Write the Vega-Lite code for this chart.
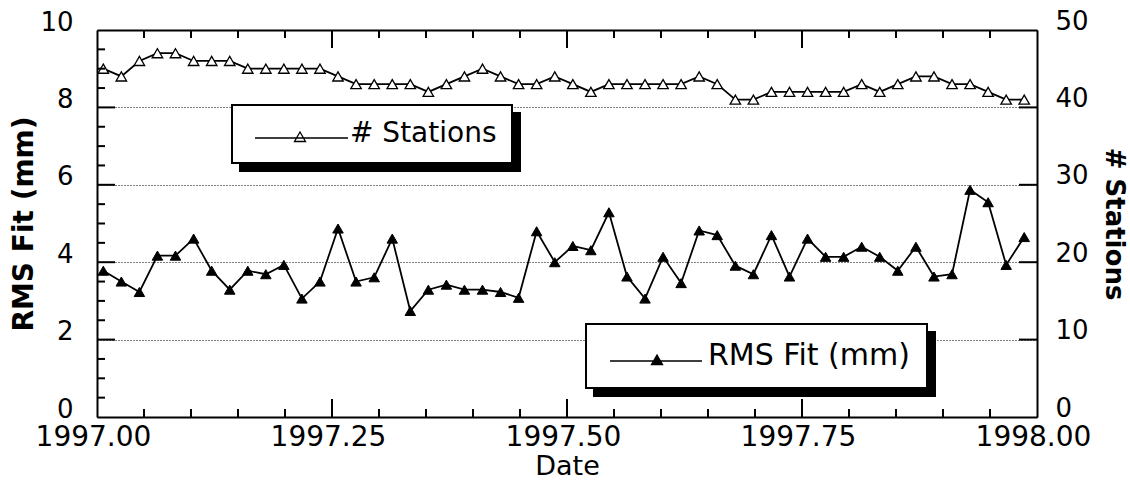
{
  "$schema": "https://vega.github.io/schema/vega-lite/v6.json",
  "width": 940,
  "height": 387,
  "autosize": {"type": "none"},
  "padding": {"left": 97, "top": 30, "right": 93, "bottom": 64},
  "background": "white",
  "data": {"values": [
    {"date": 1997.0067, "rms": 3.78, "stations": 45},
    {"date": 1997.0259, "rms": 3.50, "stations": 44},
    {"date": 1997.0451, "rms": 3.23, "stations": 46},
    {"date": 1997.0643, "rms": 4.17, "stations": 47},
    {"date": 1997.0835, "rms": 4.17, "stations": 47},
    {"date": 1997.1028, "rms": 4.61, "stations": 46},
    {"date": 1997.1220, "rms": 3.78, "stations": 46},
    {"date": 1997.1412, "rms": 3.29, "stations": 46},
    {"date": 1997.1604, "rms": 3.78, "stations": 45},
    {"date": 1997.1796, "rms": 3.69, "stations": 45},
    {"date": 1997.1988, "rms": 3.93, "stations": 45},
    {"date": 1997.2180, "rms": 3.06, "stations": 45},
    {"date": 1997.2372, "rms": 3.50, "stations": 45},
    {"date": 1997.2564, "rms": 4.87, "stations": 44},
    {"date": 1997.2756, "rms": 3.50, "stations": 43},
    {"date": 1997.2949, "rms": 3.61, "stations": 43},
    {"date": 1997.3141, "rms": 4.61, "stations": 43},
    {"date": 1997.3333, "rms": 2.74, "stations": 43},
    {"date": 1997.3525, "rms": 3.29, "stations": 42},
    {"date": 1997.3717, "rms": 3.42, "stations": 43},
    {"date": 1997.3909, "rms": 3.29, "stations": 44},
    {"date": 1997.4101, "rms": 3.29, "stations": 45},
    {"date": 1997.4293, "rms": 3.23, "stations": 44},
    {"date": 1997.4485, "rms": 3.08, "stations": 43},
    {"date": 1997.4677, "rms": 4.80, "stations": 43},
    {"date": 1997.4870, "rms": 4.00, "stations": 44},
    {"date": 1997.5062, "rms": 4.42, "stations": 43},
    {"date": 1997.5254, "rms": 4.31, "stations": 42},
    {"date": 1997.5446, "rms": 5.29, "stations": 43},
    {"date": 1997.5638, "rms": 3.63, "stations": 43},
    {"date": 1997.5830, "rms": 3.06, "stations": 43},
    {"date": 1997.6022, "rms": 4.14, "stations": 43},
    {"date": 1997.6214, "rms": 3.46, "stations": 43},
    {"date": 1997.6406, "rms": 4.82, "stations": 44},
    {"date": 1997.6598, "rms": 4.70, "stations": 43},
    {"date": 1997.6791, "rms": 3.91, "stations": 41},
    {"date": 1997.6983, "rms": 3.69, "stations": 41},
    {"date": 1997.7175, "rms": 4.70, "stations": 42},
    {"date": 1997.7367, "rms": 3.63, "stations": 42},
    {"date": 1997.7559, "rms": 4.61, "stations": 42},
    {"date": 1997.7751, "rms": 4.14, "stations": 42},
    {"date": 1997.7943, "rms": 4.14, "stations": 42},
    {"date": 1997.8135, "rms": 4.40, "stations": 43},
    {"date": 1997.8327, "rms": 4.14, "stations": 42},
    {"date": 1997.8519, "rms": 3.78, "stations": 43},
    {"date": 1997.8712, "rms": 4.40, "stations": 44},
    {"date": 1997.8904, "rms": 3.63, "stations": 44},
    {"date": 1997.9096, "rms": 3.69, "stations": 43},
    {"date": 1997.9288, "rms": 5.87, "stations": 43},
    {"date": 1997.9480, "rms": 5.55, "stations": 42},
    {"date": 1997.9672, "rms": 3.93, "stations": 41},
    {"date": 1997.9864, "rms": 4.65, "stations": 41}
  ]},
  "datasets": {
    "xmajor": [{"v": 1997.25}, {"v": 1997.5}, {"v": 1997.75}],
    "xminor": [{"v": 1997.05}, {"v": 1997.1}, {"v": 1997.15}, {"v": 1997.2}, {"v": 1997.3}, {"v": 1997.35}, {"v": 1997.4}, {"v": 1997.45}, {"v": 1997.55}, {"v": 1997.6}, {"v": 1997.65}, {"v": 1997.7}, {"v": 1997.8}, {"v": 1997.85}, {"v": 1997.9}, {"v": 1997.95}],
    "ymajor": [{"v": 2}, {"v": 4}, {"v": 6}, {"v": 8}],
    "yminor": [{"v": 0.5}, {"v": 1}, {"v": 1.5}, {"v": 2.5}, {"v": 3}, {"v": 3.5}, {"v": 4.5}, {"v": 5}, {"v": 5.5}, {"v": 6.5}, {"v": 7}, {"v": 7.5}, {"v": 8.5}, {"v": 9}, {"v": 9.5}]
  },
  "config": {
    "view": {"stroke": null},
    "legend": {"strokeWidth": 2},
    "axis": {
      "grid": false,
      "ticks": false,
      "domainColor": "black",
      "domainWidth": 2,
      "gridColor": "black",
      "gridOpacity": 1,
      "labelColor": "black",
      "titleColor": "black",
      "labelFont": "DejaVu Sans",
      "titleFont": "DejaVu Sans",
      "labelFlush": false,
      "labelOverlap": false,
      "labelBound": false
    }
  },
  "resolve": {
    "scale": {"y": "independent", "opacity": "independent"},
    "axis": {"x": "independent", "y": "independent"},
    "legend": {"opacity": "independent"}
  },
  "layer": [
    {
      "mark": {"type": "point", "filled": true, "shape": "square", "size": 0, "color": "black"},
      "encoding": {
        "x": {"field": "date", "type": "quantitative", "scale": {"domain": [1997, 1998], "nice": false, "zero": false}, "axis": null},
        "y": {"field": "stations", "type": "quantitative", "scale": {"domain": [0, 50], "nice": false}, "axis": null},
        "opacity": {"datum": "# Stations shadow", "type": "nominal", "scale": {"type": "ordinal", "range": [1]},
          "legend": {"title": null, "orient": "none", "legendX": 143, "legendY": 83, "padding": 15,
            "fillColor": "black", "strokeColor": "black", "cornerRadius": 0, "labelExpr": "'# Stations'",
            "symbolType": "M-0.6,0.4H8.7M3.35,0.75L3.9,-0.2L4.45,0.75Z", "symbolSize": 400,
            "symbolStrokeWidth": 1.3, "labelOffset": 75, "labelFontSize": 28, "labelFont": "DejaVu Sans",
            "labelColor": "black", "labelLimit": 600}}
      }
    },
    {
      "mark": {"type": "point", "filled": true, "shape": "square", "size": 0, "color": "black"},
      "encoding": {
        "x": {"field": "date", "type": "quantitative", "scale": {"domain": [1997, 1998], "nice": false, "zero": false}, "axis": null},
        "y": {"field": "rms", "type": "quantitative", "scale": {"domain": [0, 10], "nice": false}, "axis": null},
        "opacity": {"datum": "RMS Fit (mm) shadow", "type": "nominal", "scale": {"type": "ordinal", "range": [1]},
          "legend": {"title": null, "orient": "none", "legendX": 497, "legendY": 302, "padding": 17,
            "fillColor": "black", "strokeColor": "black", "cornerRadius": 0, "labelExpr": "'RMS Fit (mm)'",
            "symbolType": "M-0.8,0.5H8.4M3.35,0.85L3.9,-0.1L4.45,0.85Z", "symbolSize": 400,
            "symbolStrokeWidth": 1.3, "labelOffset": 75, "labelFontSize": 30, "labelFont": "DejaVu Sans",
            "labelColor": "black", "labelLimit": 600}}
      }
    },
    {
      "mark": {"type": "line", "color": "black", "strokeWidth": 1.8},
      "encoding": {
        "x": {"field": "date", "type": "quantitative", "scale": {"domain": [1997, 1998], "nice": false, "zero": false},
          "axis": {"orient": "bottom", "values": [1997, 1997.25, 1997.5, 1997.75, 1998], "format": ".2f",
            "labelPadding": 6, "labelFontSize": 28, "labelOffset": -4,
            "title": "Date", "titleFontSize": 27, "titleFontWeight": "normal", "titlePadding": 2}},
        "y": {"field": "stations", "type": "quantitative", "scale": {"domain": [0, 50], "nice": false},
          "axis": {"orient": "right", "values": [0, 10, 20, 30, 40, 50], "labelPadding": 18,
            "labelFontSize": 26, "labelOffset": -9, "labelBaseline": "middle",
            "title": "# Stations", "titleFontSize": 26, "titleFontWeight": "bold", "titlePadding": 12}}
      }
    },
    {
      "mark": {"type": "point", "shape": "triangle-up", "filled": true, "color": "white", "strokeWidth": 1.3, "size": 110, "opacity": 1},
      "encoding": {
        "x": {"field": "date", "type": "quantitative", "scale": {"domain": [1997, 1998], "nice": false, "zero": false},
          "axis": {"orient": "top", "labels": false, "title": null}},
        "y": {"field": "stations", "type": "quantitative", "scale": {"domain": [0, 50], "nice": false}, "axis": null},
        "stroke": {"value": "black"},
        "opacity": {"datum": "# Stations", "type": "nominal", "scale": {"type": "ordinal", "range": [1]},
          "legend": {"title": null, "orient": "none", "legendX": 135, "legendY": 75, "padding": 15,
            "fillColor": "white", "strokeColor": "black", "cornerRadius": 0,
            "symbolType": "M-0.6,0.4H8.7M3.35,0.75L3.9,-0.2L4.45,0.75Z", "symbolSize": 400,
            "symbolStrokeWidth": 1.3, "labelOffset": 75, "labelFontSize": 28, "labelFont": "DejaVu Sans",
            "labelColor": "black", "labelLimit": 600}}
      }
    },
    {
      "mark": {"type": "line", "color": "black", "strokeWidth": 1.8},
      "encoding": {
        "x": {"field": "date", "type": "quantitative", "scale": {"domain": [1997, 1998], "nice": false, "zero": false}, "axis": null},
        "y": {"field": "rms", "type": "quantitative", "scale": {"domain": [0, 10], "nice": false},
          "axis": {"orient": "left", "values": [0, 2, 4, 6, 8, 10], "labelPadding": 24,
            "labelFontSize": 26, "labelOffset": -8, "labelBaseline": "middle",
            "grid": true, "gridDash": [1, 2], "gridWidth": 1,
            "title": "RMS Fit (mm)", "titleFontSize": 28, "titleFontWeight": "bold", "titlePadding": 1}}
      }
    },
    {
      "mark": {"type": "point", "shape": "triangle-up", "filled": true, "color": "black", "strokeWidth": 1, "size": 110, "opacity": 1},
      "encoding": {
        "x": {"field": "date", "type": "quantitative", "scale": {"domain": [1997, 1998], "nice": false, "zero": false}, "axis": null},
        "y": {"field": "rms", "type": "quantitative", "scale": {"domain": [0, 10], "nice": false}, "axis": null},
        "stroke": {"value": "black"},
        "opacity": {"datum": "RMS Fit (mm)", "type": "nominal", "scale": {"type": "ordinal", "range": [1]},
          "legend": {"title": null, "orient": "none", "legendX": 489, "legendY": 294, "padding": 17,
            "fillColor": "white", "strokeColor": "black", "cornerRadius": 0,
            "symbolType": "M-0.8,0.5H8.4M3.35,0.85L3.9,-0.1L4.45,0.85Z", "symbolSize": 400,
            "symbolStrokeWidth": 1.3, "labelOffset": 75, "labelFontSize": 30, "labelFont": "DejaVu Sans",
            "labelColor": "black", "labelLimit": 600}}
      }
    },
    {
      "data": {"name": "xmajor"},
      "mark": {"type": "tick", "orient": "vertical", "size": 18, "thickness": 2, "color": "black", "opacity": 1, "yOffset": -9},
      "encoding": {
        "x": {"field": "v", "type": "quantitative", "scale": {"domain": [1997, 1998], "nice": false, "zero": false}, "axis": null},
        "y": {"datum": 0, "type": "quantitative", "scale": {"domain": [0, 10], "nice": false}, "axis": null}
      }
    },
    {
      "data": {"name": "xmajor"},
      "mark": {"type": "tick", "orient": "vertical", "size": 18, "thickness": 2, "color": "black", "opacity": 1, "yOffset": 9},
      "encoding": {
        "x": {"field": "v", "type": "quantitative", "scale": {"domain": [1997, 1998], "nice": false, "zero": false}, "axis": null},
        "y": {"datum": 10, "type": "quantitative", "scale": {"domain": [0, 10], "nice": false}, "axis": null}
      }
    },
    {
      "data": {"name": "xminor"},
      "mark": {"type": "tick", "orient": "vertical", "size": 8, "thickness": 2, "color": "black", "opacity": 1, "yOffset": -4},
      "encoding": {
        "x": {"field": "v", "type": "quantitative", "scale": {"domain": [1997, 1998], "nice": false, "zero": false}, "axis": null},
        "y": {"datum": 0, "type": "quantitative", "scale": {"domain": [0, 10], "nice": false}, "axis": null}
      }
    },
    {
      "data": {"name": "xminor"},
      "mark": {"type": "tick", "orient": "vertical", "size": 8, "thickness": 2, "color": "black", "opacity": 1, "yOffset": 4},
      "encoding": {
        "x": {"field": "v", "type": "quantitative", "scale": {"domain": [1997, 1998], "nice": false, "zero": false}, "axis": null},
        "y": {"datum": 10, "type": "quantitative", "scale": {"domain": [0, 10], "nice": false}, "axis": null}
      }
    },
    {
      "data": {"name": "ymajor"},
      "mark": {"type": "tick", "orient": "horizontal", "size": 18, "thickness": 2, "color": "black", "opacity": 1, "xOffset": 9},
      "encoding": {
        "x": {"datum": 1997, "type": "quantitative", "scale": {"domain": [1997, 1998], "nice": false, "zero": false}, "axis": null},
        "y": {"field": "v", "type": "quantitative", "scale": {"domain": [0, 10], "nice": false}, "axis": null}
      }
    },
    {
      "data": {"name": "ymajor"},
      "mark": {"type": "tick", "orient": "horizontal", "size": 18, "thickness": 2, "color": "black", "opacity": 1, "xOffset": -9},
      "encoding": {
        "x": {"datum": 1998, "type": "quantitative", "scale": {"domain": [1997, 1998], "nice": false, "zero": false}, "axis": null},
        "y": {"field": "v", "type": "quantitative", "scale": {"domain": [0, 10], "nice": false}, "axis": null}
      }
    },
    {
      "data": {"name": "yminor"},
      "mark": {"type": "tick", "orient": "horizontal", "size": 8, "thickness": 2, "color": "black", "opacity": 1, "xOffset": 4},
      "encoding": {
        "x": {"datum": 1997, "type": "quantitative", "scale": {"domain": [1997, 1998], "nice": false, "zero": false}, "axis": null},
        "y": {"field": "v", "type": "quantitative", "scale": {"domain": [0, 10], "nice": false}, "axis": null}
      }
    }
  ]
}
